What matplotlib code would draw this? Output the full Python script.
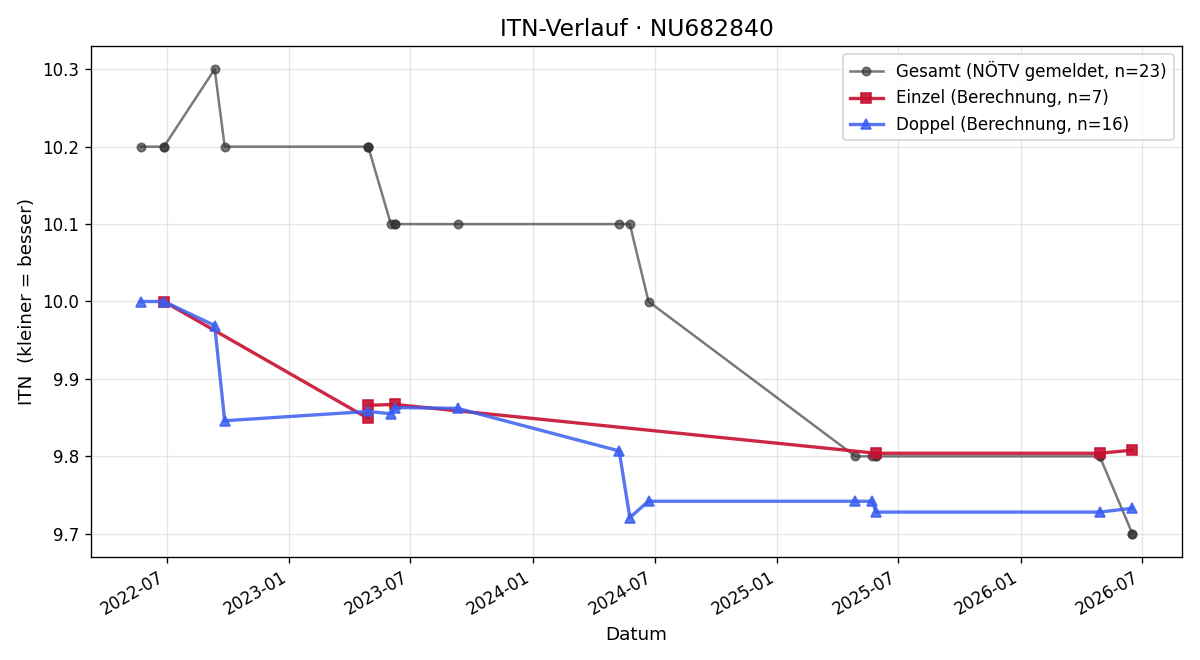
import matplotlib
matplotlib.use("Agg")
import matplotlib.pyplot as plt
import matplotlib.dates as mdates
import pandas as pd

# Gesamt (NÖTV gemeldet)
gesamt_dates = ["2022-05-23", "2022-06-27", "2022-06-27", "2022-09-11", "2022-09-26",
                "2023-04-29", "2023-04-29", "2023-04-29", "2023-06-02", "2023-06-08",
                "2023-06-08", "2023-09-10", "2024-05-09", "2024-05-25", "2024-06-22",
                "2025-04-28", "2025-05-23", "2025-05-29", "2025-05-29", "2026-04-29",
                "2026-04-29", "2026-06-17", "2026-06-17"]
gesamt_vals = [10.2, 10.2, 10.2, 10.3, 10.2,
               10.2, 10.2, 10.2, 10.1, 10.1,
               10.1, 10.1, 10.1, 10.1, 10.0,
               9.8, 9.8, 9.8, 9.8, 9.8,
               9.8, 9.7, 9.7]

# Einzel (Berechnung)
einzel_dates = ["2022-06-27", "2023-04-29", "2023-04-29", "2023-06-08",
                "2025-05-29", "2026-04-29", "2026-06-17"]
einzel_vals = [10.0, 9.849, 9.866, 9.867, 9.804, 9.804, 9.808]

# Doppel (Berechnung)
doppel_dates = ["2022-05-23", "2022-06-27", "2022-09-11", "2022-09-26",
                "2023-04-29", "2023-06-02", "2023-06-08", "2023-09-10",
                "2024-05-09", "2024-05-25", "2024-06-22", "2025-04-28",
                "2025-05-23", "2025-05-29", "2026-04-29", "2026-06-17"]
doppel_vals = [10.0, 10.0, 9.969, 9.846,
               9.858, 9.855, 9.863, 9.862,
               9.807, 9.721, 9.742, 9.742,
               9.742, 9.728, 9.728, 9.733]

fig, ax = plt.subplots(figsize=(10, 5.5), dpi=120)

ax.plot(pd.to_datetime(gesamt_dates), gesamt_vals, marker="o", color="#333333",
        alpha=0.65, linewidth=1.5, markersize=5,
        label=f"Gesamt (NÖTV gemeldet, n={len(gesamt_vals)})")
ax.plot(pd.to_datetime(einzel_dates), einzel_vals, marker="s", color="#C8102E",
        alpha=0.9, linewidth=2, markersize=6,
        label=f"Einzel (Berechnung, n={len(einzel_vals)})")
ax.plot(pd.to_datetime(doppel_dates), doppel_vals, marker="^", color="#3A5FF0",
        alpha=0.85, linewidth=2, markersize=6,
        label=f"Doppel (Berechnung, n={len(doppel_vals)})")

ax.set_title("ITN-Verlauf · NU682840", fontsize=14)
ax.set_xlabel("Datum", fontsize=11)
ax.set_ylabel("ITN  (kleiner = besser)", fontsize=11)
ax.grid(True, alpha=0.3)
ax.legend(loc="upper right", fontsize=10)
ax.xaxis.set_major_locator(mdates.MonthLocator(bymonth=[1, 7]))
ax.xaxis.set_major_formatter(mdates.DateFormatter("%Y-%m"))
fig.autofmt_xdate()
fig.subplots_adjust(left=91/1200, right=1182/1200, top=1-46/660, bottom=1-557/660)
fig.savefig("out.png", dpi=120)
